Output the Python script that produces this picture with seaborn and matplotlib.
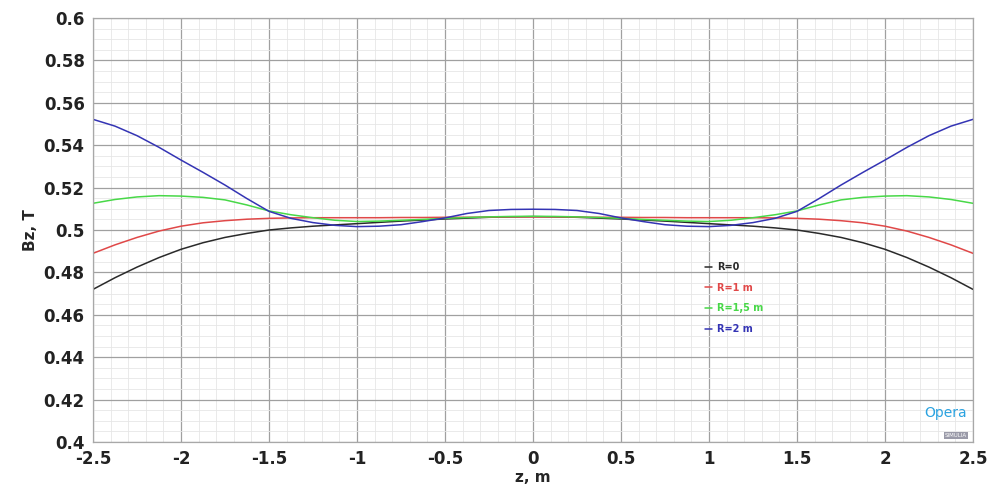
from matplotlib import pyplot as plt
from matplotlib.ticker import MultipleLocator
import seaborn as sns
import pandas as pd

z = [-2.5, -2.375, -2.25, -2.125, -2.0, -1.875, -1.75, -1.625, -1.5, -1.375, -1.25,
     -1.125, -1.0, -0.875, -0.75, -0.625, -0.5, -0.375, -0.25, -0.125, 0.0,
     0.125, 0.25, 0.375, 0.5, 0.625, 0.75, 0.875, 1.0, 1.125, 1.25,
     1.375, 1.5, 1.625, 1.75, 1.875, 2.0, 2.125, 2.25, 2.375, 2.5]

bz_r0 = [0.4720, 0.4775, 0.4825, 0.4870, 0.4909, 0.4940, 0.4965, 0.4984, 0.5000, 0.5010, 0.5018,
         0.5024, 0.5030, 0.5036, 0.5042, 0.5047, 0.5052, 0.5056, 0.5060, 0.5062, 0.5063,
         0.5062, 0.5060, 0.5056, 0.5052, 0.5047, 0.5042, 0.5036, 0.5030, 0.5024, 0.5018,
         0.5010, 0.5000, 0.4984, 0.4965, 0.4940, 0.4909, 0.4870, 0.4825, 0.4775, 0.4720]
bz_r1 = [0.4890, 0.4930, 0.4965, 0.4995, 0.5018, 0.5034, 0.5044, 0.5051, 0.5055, 0.5057, 0.5058,
         0.5058, 0.5058, 0.5058, 0.5059, 0.5059, 0.5060, 0.5060, 0.5061, 0.5062, 0.5062,
         0.5062, 0.5061, 0.5060, 0.5060, 0.5059, 0.5059, 0.5058, 0.5058, 0.5058, 0.5058,
         0.5057, 0.5055, 0.5051, 0.5044, 0.5034, 0.5018, 0.4995, 0.4965, 0.4930, 0.4890]
bz_r15 = [0.5126, 0.5144, 0.5156, 0.5162, 0.5160, 0.5154, 0.5142, 0.5118, 0.5090, 0.5072, 0.5058,
          0.5046, 0.5040, 0.5042, 0.5046, 0.5050, 0.5055, 0.5059, 0.5062, 0.5064, 0.5065,
          0.5064, 0.5062, 0.5059, 0.5055, 0.5050, 0.5046, 0.5042, 0.5040, 0.5046, 0.5058,
          0.5072, 0.5090, 0.5118, 0.5142, 0.5154, 0.5160, 0.5162, 0.5156, 0.5144, 0.5126]
bz_r2 = [0.5522, 0.5490, 0.5445, 0.5390, 0.5330, 0.5272, 0.5212, 0.5148, 0.5088, 0.5055, 0.5035,
         0.5022, 0.5016, 0.5018, 0.5025, 0.5040, 0.5057, 0.5078, 0.5092, 0.5097, 0.5098,
         0.5097, 0.5092, 0.5078, 0.5057, 0.5040, 0.5025, 0.5018, 0.5016, 0.5022, 0.5035,
         0.5055, 0.5088, 0.5148, 0.5212, 0.5272, 0.5330, 0.5390, 0.5445, 0.5490, 0.5522]

labels = ["R=0", "R=1 m", "R=1,5 m", "R=2 m"]
colors = ["#2a2a2a", "#e04848", "#48d848", "#3434b4"]

df = pd.concat([
    pd.DataFrame({"z": z, "Bz": vals, "curve": lab})
    for vals, lab in zip([bz_r0, bz_r1, bz_r15, bz_r2], labels)
])

sns.set_style("white")
plt.rcParams["font.family"] = ["DejaVu Sans"]

fig = plt.figure(figsize=(9.97, 4.92), dpi=100)
ax = fig.add_axes([0.0933, 0.1016, 0.8826, 0.8618])

ax.xaxis.set_major_locator(MultipleLocator(0.5))
ax.xaxis.set_minor_locator(MultipleLocator(0.1))
ax.yaxis.set_major_locator(MultipleLocator(0.02))
ax.yaxis.set_minor_locator(MultipleLocator(0.005))
ax.grid(which="major", color="#a0a0a0", lw=0.9)
ax.grid(which="minor", color="#e6e6e6", lw=0.6)
ax.set_axisbelow(True)

sns.lineplot(data=df, x="z", y="Bz", hue="curve", palette=colors,
             linewidth=1.1, ax=ax, legend=True)

ax.set_xlim(-2.5, 2.5)
ax.set_ylim(0.4, 0.6)
ax.set_xticks([-2.5, -2, -1.5, -1, -0.5, 0, 0.5, 1, 1.5, 2, 2.5])
ax.set_xticklabels(["-2.5", "-2", "-1.5", "-1", "-0.5", "0", "0.5", "1", "1.5", "2", "2.5"])
ax.set_yticks([0.4 + 0.02 * i for i in range(11)])
ax.set_yticklabels(["0.4", "0.42", "0.44", "0.46", "0.48", "0.5",
                    "0.52", "0.54", "0.56", "0.58", "0.6"])
for lab in ax.get_xticklabels() + ax.get_yticklabels():
    lab.set_fontweight("bold")
    lab.set_fontsize(12)
    lab.set_color("#222222")
ax.tick_params(axis="both", length=3, color="#a0a0a0", pad=3)
ax.tick_params(which="minor", length=0)

ax.set_xlabel("z, m", fontsize=11, fontweight="bold", labelpad=1)
ax.set_ylabel("Bz, T", fontsize=11, fontweight="bold", labelpad=4)

for s in ax.spines.values():
    s.set_color("#a8a8a8")
    s.set_linewidth(0.9)

leg = ax.legend(loc="upper left", bbox_to_anchor=(0.685, 0.445), frameon=False,
                handlelength=0.8, labelspacing=1.1, handletextpad=0.5,
                labelcolor="linecolor", prop={"size": 7, "weight": "bold"})

ax.text(0.993, 0.052, "Opera", transform=ax.transAxes, ha="right", va="bottom",
        color="#2aa2e0", fontsize=10)
ax.text(0.993, 0.01, "SIMULIA", transform=ax.transAxes, ha="right", va="bottom",
        color="#ffffff", fontsize=4,
        bbox=dict(boxstyle="square,pad=0.2", fc="#9a9aa8", ec="none"))

fig.savefig("out.png", dpi=100)
